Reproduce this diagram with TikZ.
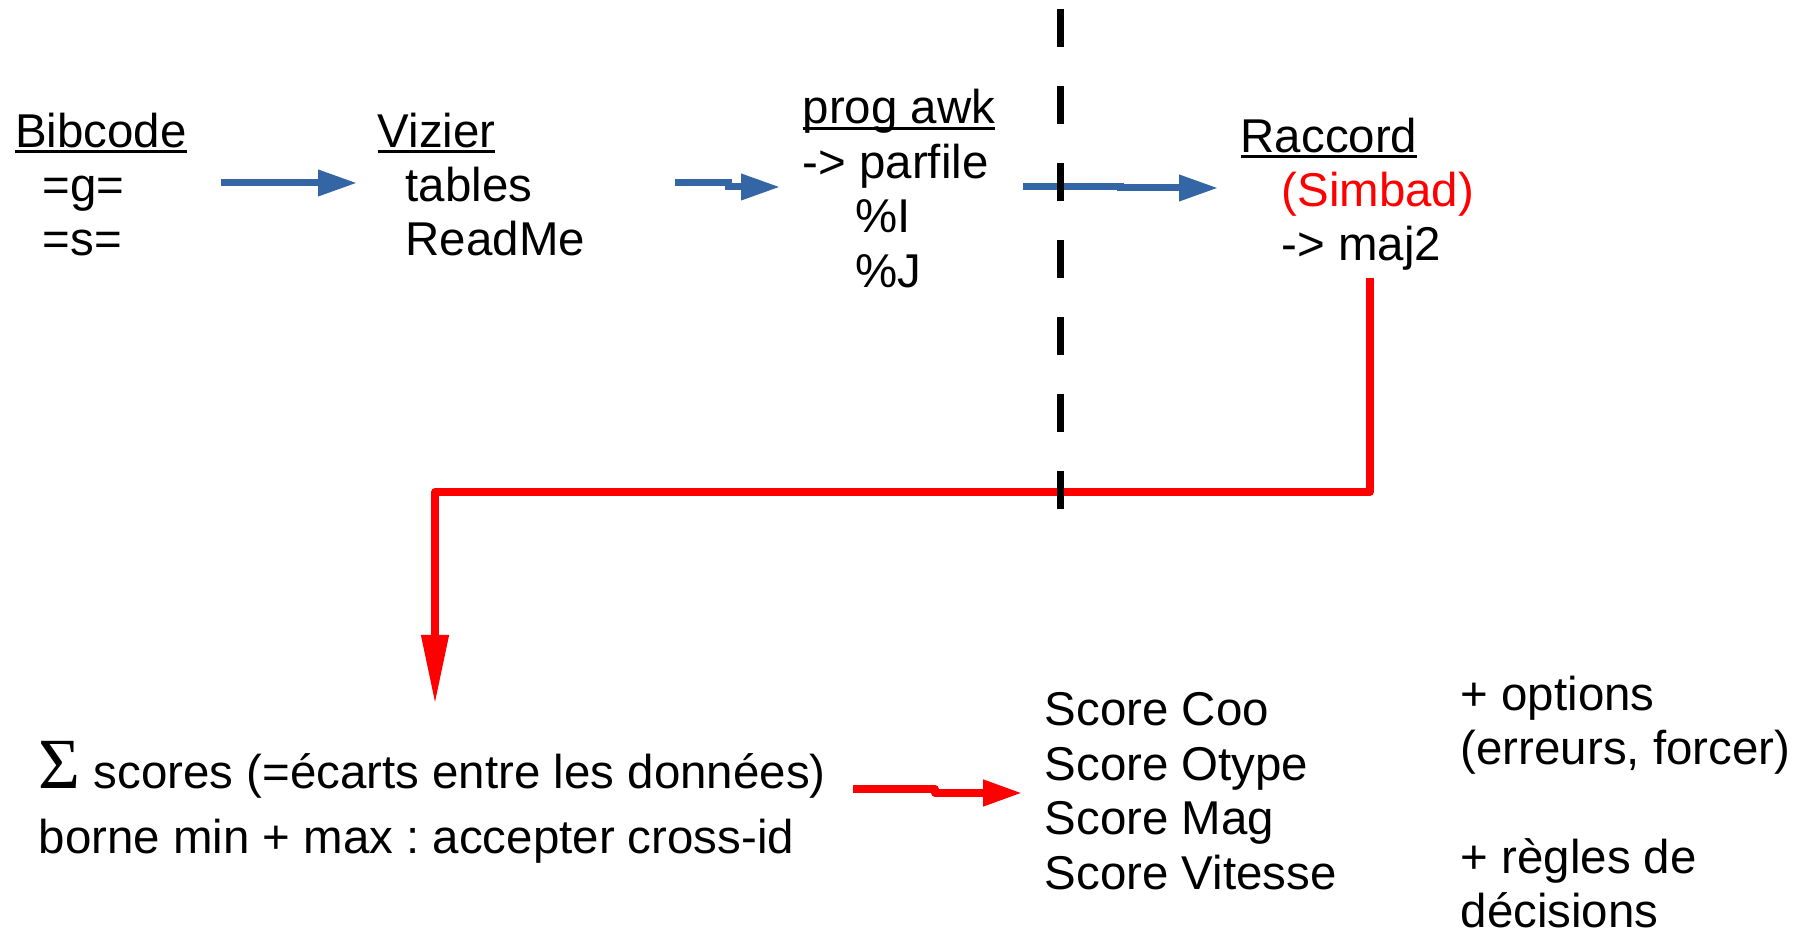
\documentclass[tikz,border=0pt]{standalone}
\usepackage{fontspec}
\setmainfont{Liberation Sans}
\newfontfamily\sigmafont{Liberation Serif}
\usetikzlibrary{arrows.meta}
\frenchspacing
\definecolor{bleulo}{HTML}{3465A4}
\newcommand{\souligne}[1]{\setbox0\hbox{#1}\rlap{\rule[-1.7pt]{\wd0}{0.85pt}}\box0}
\newcommand{\retrait}[1]{\hspace*{#1}}

\begin{document}
\begin{tikzpicture}[
    texte/.style={anchor=base west, inner sep=0pt, align=left, font=\fontsize{13.5pt}{15.5pt}\selectfont},
    flechebleue/.style={line width=0.07cm, color=bleulo, -{Triangle[length=0.39cm,width=0.25cm]}},
    flecherouge/.style={line width=0.075cm, color=red, line join=round, -{Triangle[length=0.39cm,width=0.25cm]}},
    separation/.style={line width=0.07cm, dash pattern=on 0.38cm off 0.39cm}]
  \useasboundingbox (0,0) rectangle (18.12,9.33);

  % chaine du haut (base = derniere ligne)
  \node[texte] (bibcode) at (0.145,6.77) {\souligne{Bibcode}\\\retrait{0.275cm}=g=\\\retrait{0.275cm}=s=};
  \node[texte] (vizier) at (3.77,6.77) {\souligne{Vizier}\\\retrait{0.28cm}tables\\\retrait{0.28cm}ReadMe};
  \node[texte] (awk) at (8.02,6.456) {\souligne{prog awk}\\-> parfile\\\retrait{0.53cm}\%I\\\retrait{0.53cm}\%J};
  \node[texte] (raccord) at (12.40,6.72) {\souligne{Raccord}\\\retrait{0.41cm}\textcolor{red}{(Simbad)}\\\retrait{0.41cm}-> maj2};

  % bas
  \node[texte] (scores) at (0.38,0.79) {{\sigmafont\fontsize{20.5pt}{20.5pt}\selectfont Σ} scores (=écarts entre les données)\\[3pt]borne min + max : accepter cross-id};
  \node[texte] (liste) at (10.44,0.436) {Score Coo\\Score Otype\\Score Mag\\Score Vitesse};
  \node[texte] (options) at (14.60,0.05) {+ options\\(erreurs, forcer)\\[15.5pt]+ règles de\\décisions};

  % bouts des fleches
  \coordinate (b1) at (2.21,7.50);  \coordinate (b2) at (3.57,7.50);
  \coordinate (b3) at (6.75,7.50);  \coordinate (b4) at (7.80,7.46);
  \coordinate (b5) at (10.23,7.46); \coordinate (b6) at (12.18,7.45);
  \coordinate (r1) at (13.70,6.55); \coordinate (r2) at (4.35,2.29);
  \coordinate (r3) at (8.53,1.44);  \coordinate (r4) at (10.22,1.40);
  \coordinate (sep1) at (10.60,9.24); \coordinate (sep2) at (10.60,4.24);

  \draw[flechebleue] (b1) -- (b2);
  \draw[flechebleue] (b3) -- ++(0.53,0) |- (b4);
  \draw[flechebleue] (b5) -- ++(0.97,0) |- (b6);
  \draw[flecherouge,-{Triangle[length=0.69cm,width=0.26cm]}] (r1) -- (13.70,4.41) -| (r2);
  \draw[flecherouge] (r3) -- ++(0.82,0) |- (r4);

  % ligne pointillee par dessus
  \draw[separation] (sep1) -- (sep2);
\end{tikzpicture}
\end{document}
